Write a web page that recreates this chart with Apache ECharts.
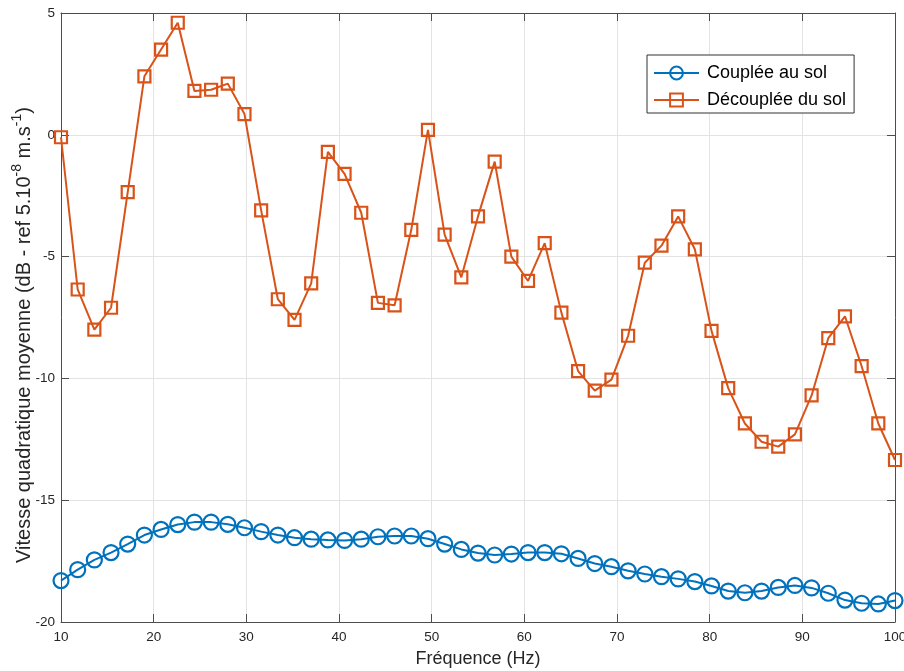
<!DOCTYPE html>
<html>
<head>
<meta charset="utf-8">
<script src="https://cdn.jsdelivr.net/npm/echarts@6/dist/echarts.min.js"></script>
<style>html,body{margin:0;padding:0;background:#fff}#c{width:904px;height:671px}</style>
</head>
<body>
<div id="c"></div>
<script>
const freq = [10,11.8,13.6,15.4,17.2,19,20.8,22.6,24.4,26.2,28,29.8,31.6,33.4,35.2,37,38.8,40.6,42.4,44.2,46,47.8,49.6,51.4,53.2,55,56.8,58.6,60.4,62.2,64,65.8,67.6,69.4,71.2,73,74.8,76.6,78.4,80.2,82,83.8,85.6,87.4,89.2,91,92.8,94.6,96.4,98.2,100];
const couplee = [-18.3,-17.85,-17.45,-17.15,-16.8,-16.43,-16.2,-16.0,-15.9,-15.9,-15.99,-16.13,-16.29,-16.43,-16.54,-16.6,-16.63,-16.65,-16.6,-16.5,-16.47,-16.47,-16.58,-16.8,-17.02,-17.17,-17.25,-17.21,-17.15,-17.15,-17.2,-17.39,-17.6,-17.73,-17.9,-18.03,-18.14,-18.23,-18.34,-18.52,-18.73,-18.8,-18.73,-18.58,-18.5,-18.6,-18.82,-19.1,-19.23,-19.26,-19.12];
const decouplee = [-0.1,-6.35,-8.0,-7.1,-2.35,2.4,3.5,4.6,1.8,1.85,2.1,0.85,-3.1,-6.75,-7.6,-6.1,-0.7,-1.6,-3.2,-6.9,-7.0,-3.9,0.2,-4.1,-5.85,-3.35,-1.1,-5.0,-6.0,-4.45,-7.3,-9.7,-10.5,-10.05,-8.25,-5.25,-4.55,-3.35,-4.7,-8.05,-10.4,-11.85,-12.6,-12.8,-12.3,-10.7,-8.35,-7.45,-9.5,-11.85,-13.35];
const seriesNames = ['Couplée au sol','Découplée du sol'];
const xTicks = [10,20,30,40,50,60,70,80,90,100];
const yTicks = [-20,-15,-10,-5,0,5];
const xTitle = 'Fréquence (Hz)';
const yTitle = '{a|Vitesse quadratique moyenne (dB - ref 5.10}{s|-8}{a| m.s}{s|-1}{a|)}';

const FONT = 'Liberation Sans, Arial, Helvetica, sans-serif';
const AX = '#4d4d4d';
const TXT = '#262626';
const GRID = '#e3e3e3';
const BLUE = '#0072BD';
const ORANGE = '#D95319';

function pairs(ys){ return freq.map((f,i)=>[f, ys[i]]); }

const chart = echarts.init(document.getElementById('c'));
const baseX = {
  type:'value', min:10, max:100, interval:10,
  axisLine:{show:true, onZero:false, lineStyle:{color:AX, width:1}},
  axisTick:{show:true, inside:true, length:8, lineStyle:{color:AX}},
  splitLine:{show:false}
};
const baseY = {
  type:'value', min:-20, max:5, interval:5,
  axisLine:{show:true, onZero:false, lineStyle:{color:AX, width:1}},
  axisTick:{show:true, inside:true, length:8, lineStyle:{color:AX}},
  splitLine:{show:false}
};
chart.setOption({
  backgroundColor:'#fff',
  animation:false,
  textStyle:{fontFamily:FONT},
  grid:{left:61, right:9, top:13, bottom:49, containLabel:false, outerBoundsMode:'none'},
  legend:{
    orient:'vertical', left:647, top:55,
    data:seriesNames,
    backgroundColor:'#fff', borderColor:'#333', borderWidth:1,
    padding:[9,8,4,6], itemGap:9, itemWidth:45, itemHeight:16,
    textStyle:{fontFamily:FONT, fontSize:18, color:'#000', padding:[0,0,0,3]}
  },
  graphic:[{
    type:'text', x:22, y:335, rotation:Math.PI/2, silent:true,
    style:{
      text:yTitle, align:'center', verticalAlign:'middle', fill:TXT,
      fontFamily:FONT, fontSize:20,
      rich:{
        a:{fontSize:20, fill:TXT, fontFamily:FONT, verticalAlign:'bottom', lineHeight:24},
        s:{fontSize:14, fill:TXT, fontFamily:FONT, verticalAlign:'top', lineHeight:24, padding:[0,0,10,0]}
      }
    }
  }],
  xAxis:[
    Object.assign({}, baseX, {
      position:'bottom',
      axisLabel:{color:TXT, fontSize:13.5, fontFamily:FONT, margin:8, formatter:v=>xTicks.includes(v)?String(v):''},
      splitLine:{show:true, lineStyle:{color:GRID, width:1}},
      name:xTitle, nameLocation:'middle', nameGap:28,
      nameTextStyle:{fontSize:18, color:TXT, fontFamily:FONT}
    }),
    Object.assign({}, baseX, {position:'top', axisLabel:{show:false}})
  ],
  yAxis:[
    Object.assign({}, baseY, {
      position:'left',
      axisLabel:{color:TXT, fontSize:13.5, fontFamily:FONT, margin:6, formatter:v=>yTicks.includes(v)?String(v):''},
      splitLine:{show:true, lineStyle:{color:GRID, width:1}}
    }),
    Object.assign({}, baseY, {position:'right', axisLabel:{show:false}})
  ],
  series:[
    {
      name:seriesNames[0], type:'line', xAxisIndex:0, yAxisIndex:0,
      data:pairs(couplee),
      symbol:'circle', symbolSize:15, showAllSymbol:true,
      lineStyle:{color:BLUE, width:2},
      itemStyle:{color:'rgba(255,255,255,0)', borderColor:BLUE, borderWidth:2.2},
      emphasis:{disabled:true}, z:3
    },
    {
      name:seriesNames[1], type:'line', xAxisIndex:0, yAxisIndex:0,
      data:pairs(decouplee),
      symbol:'rect', symbolSize:12, showAllSymbol:true,
      lineStyle:{color:ORANGE, width:2},
      itemStyle:{color:'rgba(255,255,255,0)', borderColor:ORANGE, borderWidth:2.2},
      emphasis:{disabled:true}, z:3
    }
  ]
});
</script>
</body>
</html>
